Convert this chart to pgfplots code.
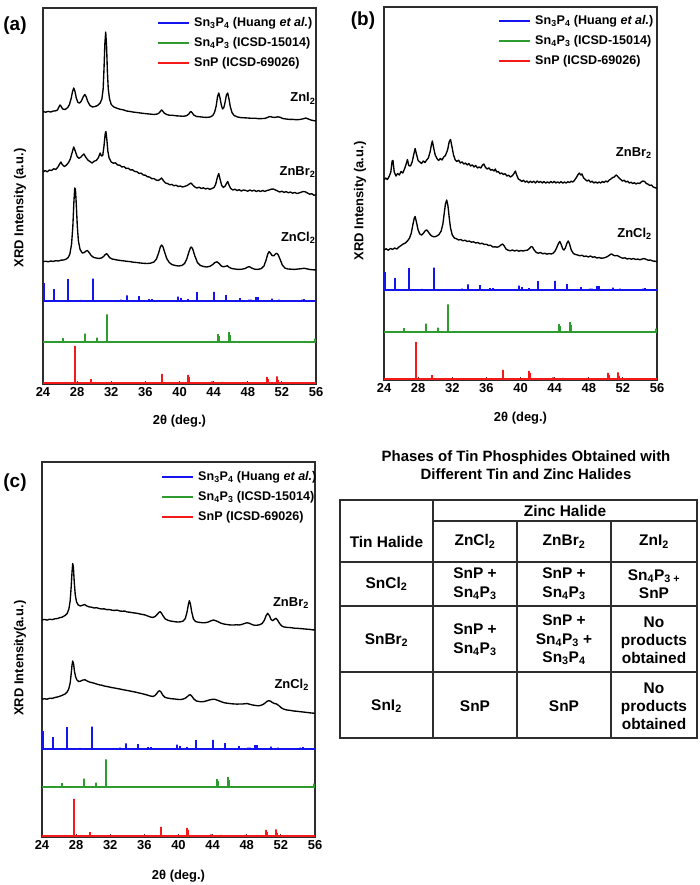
\documentclass[border=0pt]{standalone}
\usepackage{fontspec}
\setmainfont{Liberation Sans}
\usepackage{pgfplots}
\pgfplotsset{compat=1.18}
\usepackage{pgfplotstable}

\definecolor{refblue}{RGB}{20,20,240}
\definecolor{refgreen}{RGB}{45,155,45}
\definecolor{refred}{RGB}{245,25,25}
\definecolor{axgray}{RGB}{45,45,45}
\newcommand{\fs}[1]{\fontsize{#1}{#1}\selectfont\bfseries}
\newcommand{\tf}{\fontsize{15.5}{18.3}\selectfont\bfseries}

% ---------- reference stick patterns (x, relative height) ----------
\pgfplotstableread{
x h
24.0 0
24.1 0
24.1 18
24.1 0
25.25 0
25.25 12
25.25 0
26.9 0
26.9 22
26.9 0
28.45 0
28.45 1.2
28.45 0
29.9 0
29.9 22.5
29.9 0
31.7 0
31.7 1
31.7 0
33.1 0
33.1 1.5
33.1 0
33.9 0
33.9 5.7
33.9 0
35.2 0
35.2 5
35.2 0
36.4 0
36.4 2
36.4 0
36.75 0
36.75 1.8
36.75 0
39.85 0
39.85 4.5
39.85 0
40.2 0
40.2 3
40.2 0
41.0 0
41.0 2
41.0 0
42.05 0
42.05 9
42.05 0
42.3 0
42.3 1
42.3 0
44.1 0
44.1 9.2
44.1 0
45.45 0
45.45 6
45.45 0
47.1 0
47.1 3
47.1 0
48.1 0
48.1 1.5
48.1 0
48.35 0
48.35 1.5
48.35 0
48.95 0
48.95 4
48.95 0
49.25 0
49.25 4
49.25 0
50.8 0
50.8 2.5
50.8 0
51.7 0
51.7 1.5
51.7 0
52.0 0
52.0 1
52.0 0
54.3 0
54.3 1.5
54.3 0
54.65 0
54.65 2
54.65 0
55.8 0
55.8 0.8
55.8 0
56.0 0
}\snthreepfour

\pgfplotstableread{
x h
24.0 0
26.1 0
26.1 1
26.1 0
26.4 0
26.4 4
26.4 0
27.95 0
27.95 0.7
27.95 0
28.9 0
28.9 8.5
28.9 0
30.35 0
30.35 4.5
30.35 0
31.5 0
31.5 27.7
31.5 0
33.0 0
33.0 0.8
33.0 0
38.3 0
38.3 0.8
38.3 0
44.5 0
44.5 8
44.5 0
44.65 0
44.65 6
44.65 0
45.75 0
45.75 10
45.75 0
45.9 0
45.9 7
45.9 0
51.3 0
51.3 0.5
51.3 0
54.6 0
54.6 0.8
54.6 0
55.0 0
55.0 1
55.0 0
55.9 0
55.9 3.5
55.9 0
56.0 0
}\snfourpthree

\pgfplotstableread{
x h
24.0 0
27.7 0
27.7 37
27.7 0
29.6 0
29.6 3.8
29.6 0
38.0 0
38.0 9
38.0 0
41.05 0
41.05 8
41.05 0
41.15 0
41.15 6
41.15 0
43.8 0
43.8 1.5
43.8 0
45.0 0
45.0 1
45.0 0
47.8 0
47.8 1
47.8 0
50.2 0
50.2 6
50.2 0
50.35 0
50.35 4
50.35 0
51.4 0
51.4 6.5
51.4 0
51.55 0
51.55 3
51.55 0
56.0 0
}\snp

% ---------- panel (a) measured patterns ----------
\pgfplotstableread{
x y
24.0 272.5
24.3 271.8
24.6 272.6
24.9 272.0
25.2 272.9
25.5 273.2
25.7 274.0
25.9 277.5
26.0 279.0
26.1 278.0
26.3 275.0
26.6 274.5
26.9 276.5
27.1 279.5
27.3 285.5
27.45 292.0
27.6 296.0
27.75 292.5
27.9 286.0
28.1 281.5
28.3 281.0
28.5 283.0
28.7 287.0
28.9 289.5
29.05 287.5
29.25 282.5
29.5 278.5
29.8 277.0
30.1 277.5
30.4 278.5
30.7 281.0
30.9 285.0
31.05 295.0
31.15 315.0
31.25 340.0
31.35 352.0
31.45 338.0
31.55 312.0
31.65 295.0
31.8 285.0
32.0 279.5
32.3 277.0
32.6 276.0
33.0 274.8
33.4 274.2
33.8 273.0
34.2 272.5
34.6 271.9
35.0 271.5
35.4 271.0
35.8 270.6
36.2 270.2
36.6 269.9
37.0 269.5
37.4 270.0
37.6 271.0
37.8 273.0
37.9 274.0
38.0 273.2
38.2 271.0
38.5 269.5
38.8 268.8
39.2 268.7
39.6 268.2
40.0 268.0
40.4 267.7
40.8 268.2
41.1 270.0
41.25 272.0
41.35 272.5
41.5 271.0
41.7 268.8
42.0 267.5
42.4 267.2
42.8 266.8
43.2 266.6
43.6 267.0
43.9 268.5
44.1 271.5
44.3 278.0
44.45 287.0
44.6 291.0
44.75 286.0
44.9 279.0
45.05 275.0
45.2 276.5
45.35 282.0
45.5 289.0
45.65 291.0
45.8 285.0
45.95 277.5
46.15 271.5
46.4 268.5
46.8 267.0
47.2 266.4
47.6 266.2
48.0 266.0
48.4 265.7
48.8 265.8
49.2 265.4
49.6 265.4
50.0 265.6
50.3 266.5
50.6 267.5
50.9 266.8
51.2 266.6
51.5 267.2
51.8 266.7
52.1 265.5
52.5 265.0
52.9 264.6
53.3 264.6
53.7 264.3
54.1 264.5
54.5 265.2
54.8 266.0
55.1 265.0
55.4 264.0
55.7 263.4
56.0 263.0
}\aZnI

\pgfplotstableread{
x y
24.0 212.0
24.25 213.4
24.5 212.2
24.75 214.0
25.0 213.5
25.25 215.2
25.5 214.6
25.75 217.0
25.95 220.0
26.1 222.0
26.25 219.5
26.5 217.5
26.75 219.0
27.0 221.5
27.2 225.0
27.4 231.0
27.6 237.0
27.8 232.5
28.0 227.5
28.2 225.8
28.4 226.5
28.6 228.5
28.8 230.0
29.0 227.0
29.25 224.0
29.5 222.5
29.75 221.0
30.0 222.8
30.25 223.5
30.5 226.5
30.7 231.0
30.85 228.0
31.0 228.5
31.15 238.0
31.3 251.0
31.38 252.5
31.5 243.0
31.6 233.0
31.75 226.0
32.0 222.0
32.25 220.8
32.5 221.2
32.75 219.0
33.0 218.8
33.25 217.0
33.5 217.4
33.75 215.5
34.0 215.8
34.25 214.0
34.5 214.2
34.75 212.5
35.0 212.3
35.25 210.6
35.5 210.9
35.75 209.0
36.0 208.8
36.25 207.2
36.5 207.0
36.75 205.3
37.0 205.5
37.25 204.0
37.5 203.5
37.7 204.5
37.9 206.0
38.1 203.5
38.35 201.0
38.6 200.5
38.85 199.2
39.1 199.6
39.35 198.2
39.6 198.8
39.85 197.5
40.1 198.0
40.35 197.0
40.6 197.6
40.9 198.5
41.15 200.0
41.35 201.0
41.55 199.0
41.8 197.0
42.05 196.0
42.3 196.8
42.55 195.5
42.8 196.2
43.05 195.0
43.3 195.8
43.55 194.6
43.8 195.5
44.05 196.5
44.25 200.0
44.45 207.0
44.6 210.5
44.75 205.0
44.95 198.5
45.15 196.5
45.35 198.0
45.5 200.5
45.65 202.5
45.8 199.0
46.0 195.5
46.25 194.0
46.5 194.8
46.75 193.4
47.0 194.3
47.25 193.0
47.5 194.0
47.75 193.6
48.0 192.8
48.25 194.0
48.5 193.0
48.75 193.8
49.0 192.5
49.25 193.5
49.5 192.4
49.75 193.6
50.0 192.6
50.25 193.5
50.5 194.0
50.75 194.8
51.0 195.0
51.25 194.0
51.5 193.0
51.75 192.0
52.0 192.8
52.25 191.6
52.5 192.4
52.75 191.2
53.0 192.0
53.25 190.8
53.5 191.6
53.75 190.5
54.0 191.0
54.25 191.8
54.5 192.5
54.75 192.2
55.0 191.0
55.25 189.8
55.5 190.3
55.75 188.8
56.0 189.2
}\aZnBr

\pgfplotstableread{
x y
24.0 122.3
24.3 122.8
24.6 122.2
24.9 123.0
25.2 122.6
25.5 123.3
25.8 123.0
26.1 123.8
26.4 124.0
26.7 124.8
26.95 126.5
27.15 130.0
27.35 140.0
27.5 158.0
27.62 182.0
27.72 196.0
27.8 195.0
27.9 180.0
28.02 158.0
28.15 143.0
28.35 134.5
28.6 131.0
28.85 131.5
29.05 133.0
29.2 133.5
29.4 131.5
29.65 128.5
29.95 126.5
30.25 126.0
30.55 125.5
30.85 126.0
31.1 127.5
31.3 129.5
31.45 130.3
31.6 129.0
31.8 126.5
32.1 125.0
32.4 124.5
32.7 124.0
33.0 123.6
33.4 123.2
33.8 122.7
34.2 122.4
34.6 121.8
35.0 121.5
35.4 121.0
35.8 120.7
36.2 120.5
36.6 120.8
37.0 122.0
37.3 125.0
37.55 131.0
37.75 137.0
37.9 139.0
38.05 137.5
38.25 132.0
38.5 125.5
38.8 121.5
39.1 119.5
39.5 118.5
39.9 118.0
40.3 118.6
40.6 120.5
40.85 125.0
41.1 132.0
41.3 136.5
41.4 137.0
41.55 135.0
41.8 128.0
42.1 121.5
42.45 118.5
42.8 117.5
43.2 117.0
43.6 117.8
43.9 119.5
44.15 121.5
44.4 122.2
44.65 120.5
44.9 118.0
45.15 117.2
45.45 117.8
45.6 118.3
45.8 116.8
46.1 115.5
46.5 115.0
46.9 114.6
47.3 114.8
47.7 115.5
48.0 117.0
48.2 117.3
48.45 116.0
48.8 114.8
49.2 114.6
49.6 115.5
49.9 118.0
50.15 124.0
50.35 130.0
50.5 132.3
50.65 131.0
50.85 128.5
51.05 128.2
51.25 130.0
51.4 130.7
51.55 129.5
51.8 124.5
52.05 119.0
52.35 116.0
52.7 115.0
53.1 114.8
53.5 114.6
53.9 115.0
54.3 115.3
54.6 115.8
54.9 115.2
55.3 114.5
55.7 114.2
56.0 114.0
}\aZnCl

% ---------- panel (b) measured patterns ----------
\pgfplotstableread{
x y
24.0 200.0
24.2 202.0
24.4 200.5
24.6 203.5
24.8 208.0
24.95 219.0
25.05 219.5
25.2 208.0
25.4 204.0
25.6 206.5
25.8 205.0
26.0 208.5
26.2 207.0
26.4 211.0
26.6 216.0
26.75 220.5
26.9 214.5
27.1 214.0
27.3 218.0
27.5 226.0
27.65 231.5
27.8 226.0
28.0 219.5
28.2 218.0
28.4 216.5
28.6 219.0
28.8 217.5
29.0 220.0
29.2 222.0
29.4 228.0
29.55 235.0
29.67 239.0
29.8 233.0
30.0 225.0
30.2 221.5
30.4 219.5
30.6 221.5
30.8 220.0
31.0 223.0
31.2 224.5
31.45 230.0
31.65 238.5
31.8 240.5
31.95 234.0
32.15 225.0
32.35 220.0
32.55 218.5
32.75 219.8
32.95 217.0
33.15 218.2
33.35 216.0
33.55 217.0
33.75 215.0
33.95 216.5
34.15 214.0
34.35 215.2
34.55 213.0
34.75 214.5
34.95 212.0
35.15 213.0
35.35 212.0
35.55 215.0
35.7 216.0
35.9 212.5
36.1 211.0
36.3 212.2
36.5 209.8
36.7 210.5
36.9 209.0
37.05 211.0
37.2 208.0
37.4 208.5
37.6 206.2
37.8 207.0
38.0 205.5
38.2 206.3
38.4 204.0
38.6 204.8
38.8 203.0
39.0 204.0
39.2 206.0
39.4 209.0
39.55 205.0
39.75 201.0
39.95 200.0
40.15 198.5
40.35 199.8
40.55 197.8
40.75 199.0
40.95 197.2
41.15 198.8
41.35 197.5
41.55 198.8
41.75 197.0
41.95 199.0
42.15 197.5
42.35 198.6
42.55 197.0
42.75 198.5
42.95 196.8
43.15 198.2
43.35 197.0
43.55 198.5
43.75 197.2
43.95 198.6
44.15 197.0
44.35 198.2
44.55 197.0
44.75 198.4
44.95 196.8
45.15 198.0
45.35 197.0
45.55 198.2
45.75 197.5
45.95 198.8
46.15 198.0
46.35 200.0
46.55 202.5
46.75 205.5
46.9 207.0
47.05 205.0
47.2 206.0
47.4 202.0
47.6 200.5
47.8 199.0
48.0 200.0
48.2 197.8
48.4 198.8
48.6 197.0
48.8 198.2
49.0 196.8
49.2 198.0
49.4 197.0
49.6 198.5
49.8 197.5
50.0 199.0
50.2 198.0
50.4 200.0
50.6 201.0
50.8 202.5
51.0 203.0
51.2 205.0
51.35 204.0
51.55 202.0
51.75 200.5
51.95 199.0
52.15 199.8
52.35 198.0
52.55 198.8
52.75 197.0
52.95 197.8
53.15 196.5
53.35 197.3
53.55 196.0
53.75 197.0
53.95 196.5
54.15 198.0
54.35 199.0
54.55 198.5
54.75 196.5
54.95 195.8
55.15 194.5
55.35 195.0
55.55 193.0
55.75 192.5
56.0 191.5
}\bZnBr

\pgfplotstableread{
x y
24.0 130.0
24.25 131.2
24.5 129.8
24.75 131.5
25.0 130.6
25.25 132.0
25.5 131.0
25.75 133.0
26.0 134.5
26.25 136.0
26.5 137.0
26.75 139.0
27.0 142.0
27.2 147.0
27.4 156.0
27.55 162.0
27.65 163.5
27.8 158.0
28.0 150.0
28.2 146.0
28.4 145.0
28.6 146.5
28.8 149.0
29.0 150.2
29.2 148.0
29.45 145.0
29.7 143.5
29.95 143.2
30.2 144.0
30.45 145.5
30.7 149.0
30.9 156.0
31.05 166.0
31.2 176.0
31.35 180.0
31.5 174.0
31.65 162.0
31.8 152.0
32.0 145.0
32.25 142.0
32.5 141.2
32.75 140.0
33.0 140.5
33.25 139.2
33.5 139.8
33.75 138.5
34.0 139.0
34.25 137.8
34.5 138.2
34.75 137.0
35.0 137.5
35.25 136.2
35.5 136.8
35.75 135.5
36.0 135.8
36.25 134.5
36.5 134.8
36.75 133.0
37.0 133.2
37.25 132.8
37.5 133.5
37.7 135.0
37.9 136.0
38.1 134.0
38.3 131.0
38.55 129.8
38.8 129.2
39.05 130.0
39.3 129.0
39.55 129.8
39.8 128.8
40.05 129.5
40.3 129.0
40.55 129.5
40.8 129.8
41.05 131.5
41.25 133.5
41.4 133.0
41.6 130.0
41.85 127.5
42.1 126.8
42.35 127.5
42.6 126.2
42.85 126.8
43.1 125.8
43.35 126.5
43.6 126.0
43.85 127.0
44.05 129.0
44.25 132.5
44.45 136.5
44.6 138.5
44.75 136.0
44.95 131.0
45.1 130.0
45.25 132.0
45.45 137.0
45.6 139.0
45.75 136.0
45.95 130.0
46.2 126.5
46.45 125.5
46.7 125.0
46.95 124.2
47.2 124.8
47.45 123.5
47.7 124.0
47.95 123.0
48.2 124.0
48.45 122.8
48.7 123.2
48.95 122.0
49.2 122.5
49.45 121.8
49.7 122.0
49.95 122.5
50.2 123.5
50.45 125.0
50.65 126.2
50.85 125.0
51.05 124.2
51.3 124.5
51.5 123.8
51.75 122.5
52.0 121.8
52.25 122.2
52.5 121.0
52.75 121.6
53.0 120.8
53.25 121.5
53.5 120.5
53.75 121.0
54.0 120.2
54.25 121.0
54.5 121.5
54.75 120.5
55.0 119.8
55.25 120.0
55.5 119.0
55.75 118.8
56.0 118.3
}\bZnCl

% ---------- panel (c) measured patterns ----------
\pgfplotstableread{
x y
24.0 217.0
24.3 217.6
24.6 216.9
24.9 217.8
25.2 217.4
25.5 218.2
25.8 218.5
26.1 219.3
26.4 220.0
26.7 221.5
26.95 223.5
27.15 228.0
27.3 236.0
27.42 250.0
27.52 265.0
27.6 273.5
27.68 270.0
27.78 255.0
27.9 242.0
28.05 235.0
28.25 232.0
28.5 231.0
28.75 231.8
29.0 232.5
29.25 231.0
29.5 230.2
29.8 229.8
30.1 229.0
30.4 229.3
30.7 228.5
31.0 228.0
31.3 228.2
31.6 227.3
31.9 227.5
32.2 226.8
32.5 226.6
32.8 226.9
33.1 226.0
33.4 225.8
33.7 225.9
34.0 225.0
34.3 224.8
34.6 224.3
34.9 224.0
35.2 223.6
35.5 223.0
35.8 222.5
36.1 222.0
36.4 221.0
36.7 220.0
37.0 219.5
37.25 220.5
37.5 222.5
37.7 224.6
37.85 225.3
38.0 224.0
38.2 221.0
38.45 218.0
38.75 216.8
39.05 216.0
39.35 215.6
39.65 215.2
39.95 215.0
40.25 215.2
40.55 216.0
40.8 218.5
41.0 225.0
41.15 232.0
41.27 236.3
41.4 233.0
41.55 225.0
41.75 218.0
42.0 215.5
42.3 214.8
42.6 214.5
42.9 214.2
43.2 214.4
43.5 215.0
43.8 216.2
44.1 217.0
44.4 216.2
44.7 215.0
45.0 213.8
45.3 213.0
45.6 212.6
45.9 212.2
46.2 212.0
46.5 212.0
46.8 212.3
47.1 212.0
47.4 212.5
47.7 213.4
48.0 214.2
48.3 213.8
48.6 212.5
48.9 211.8
49.2 211.8
49.5 212.2
49.8 213.5
50.05 216.5
50.25 221.0
50.45 223.7
50.65 221.5
50.85 217.5
51.05 216.3
51.25 217.8
51.43 218.7
51.6 217.0
51.85 213.5
52.1 211.0
52.4 210.0
52.7 209.6
53.0 209.5
53.3 209.2
53.6 208.8
53.9 208.7
54.2 208.5
54.5 208.3
54.8 208.0
55.1 207.8
55.4 207.6
55.7 207.2
56.0 207.0
}\cZnBr

\pgfplotstableread{
x y
24.0 137.7
24.3 138.3
24.6 137.8
24.9 138.8
25.2 138.6
25.5 139.5
25.8 140.0
26.1 140.8
26.4 141.8
26.7 143.0
26.95 145.0
27.15 148.5
27.3 154.0
27.42 163.0
27.52 172.0
27.6 176.0
27.7 173.0
27.82 165.0
27.95 160.0
28.1 157.0
28.3 155.5
28.55 156.0
28.8 157.0
29.05 157.2
29.3 156.0
29.55 155.0
29.8 154.5
30.1 153.8
30.4 153.0
30.7 152.2
31.0 151.8
31.3 151.0
31.6 150.5
31.9 150.0
32.2 149.4
32.5 149.0
32.8 148.5
33.1 148.0
33.4 147.5
33.7 147.0
34.0 146.5
34.3 146.0
34.6 145.5
34.9 145.0
35.2 144.4
35.5 143.8
35.8 143.2
36.1 142.5
36.4 141.8
36.7 141.0
37.0 140.5
37.25 141.5
37.45 143.5
37.65 145.8
37.8 146.2
37.95 145.0
38.15 142.0
38.4 139.8
38.7 139.0
39.0 138.5
39.3 138.2
39.6 138.0
39.9 137.6
40.2 137.5
40.5 137.8
40.8 138.8
41.05 140.5
41.25 142.0
41.4 142.2
41.55 141.0
41.8 138.0
42.1 136.0
42.4 135.5
42.7 135.2
43.0 135.5
43.3 136.2
43.6 137.0
43.9 137.6
44.2 137.8
44.5 137.0
44.8 136.0
45.1 135.0
45.4 134.2
45.7 133.8
46.0 133.5
46.3 133.2
46.6 133.0
46.9 132.9
47.2 133.0
47.5 133.0
47.8 133.3
48.1 133.4
48.4 132.6
48.7 132.0
49.0 131.6
49.3 131.2
49.6 131.5
49.9 132.5
50.15 134.0
50.4 135.8
50.6 136.3
50.8 135.8
51.0 134.5
51.25 133.5
51.5 133.0
51.75 131.5
52.0 129.5
52.3 128.0
52.6 127.2
52.9 126.8
53.2 126.5
53.5 126.0
53.8 125.8
54.1 125.5
54.4 125.2
54.7 124.9
55.0 124.6
55.3 124.3
55.6 124.0
56.0 123.7
}\cZnCl

\pgfplotsset{
  xrd/.style={
    scale only axis, width=273bp, anchor=south west,
    xmin=24, xmax=56, xtick={24,28,...,56}, ytick=\empty,
    axis line style={axgray, line width=1.1bp},
    tick style={axgray, line width=0.8bp}, tick align=inside, xtick pos=left,
    major tick length=3bp,
    ticklabel style={font=\fs{13}},
    /pgf/number format/assume math mode=true,
    xlabel={2θ (deg.)},
    xlabel style={font=\fs{13}, anchor=center},
    ylabel style={font=\fs{13}, anchor=center},
    legend cell align=left,
    legend image code/.code={\draw[##1] (0bp,0bp) -- (31bp,0bp);},
    legend style={draw=none, fill=none, anchor=north west, inner sep=0pt,
      font=\fs{12.6}, row sep=7bp,
      nodes={inner sep=0pt, text height=10bp, text depth=3bp},
      /tikz/every odd column/.style={column sep=4bp}},
  },
  meas/.style={black, line width=1.35bp, line join=round, forget plot},
  stick/.style={line width=2bp, line join=bevel, forget plot},
}

\newcommand{\legimages}{%
  \addlegendimage{color=refblue, line width=2bp}
  \addlegendimage{color=refgreen, line width=2bp}
  \addlegendimage{color=refred, line width=2bp}
}

\begin{document}
\begin{tikzpicture}
\useasboundingbox (0bp,0bp) rectangle (700bp,-885bp);

% ================= panel (a) =================
\begin{axis}[xrd, at={(43bp,-384bp)}, height=376bp, ymin=0, ymax=376,
  ylabel={XRD Intensity (a.u.)},
  ylabel style={at={(axis description cs:-0.084,0.468)}},
  xlabel style={at={(axis description cs:0.5,-0.10)}},
  legend style={at={(rel axis cs:0.4176,0.977)}}]
\legimages
\addplot[meas] table[x=x,y=y] {\aZnI};
\addplot[meas] table[x=x,y=y] {\aZnBr};
\addplot[meas] table[x=x,y=y] {\aZnCl};
\addplot[stick, color=refblue] table[x=x, y expr=\thisrow{h}+83] {\snthreepfour};
\addplot[stick, color=refgreen] table[x=x, y expr=\thisrow{h}+42] {\snfourpthree};
\addplot[stick, color=refred] table[x=x, y expr=\thisrow{h}+1.2] {\snp};
\node[anchor=base east, font=\fs{13}, inner sep=0pt] at (axis cs:55.95,282) {ZnI\textsubscript{2}};
\node[anchor=base east, font=\fs{13}, inner sep=0pt] at (axis cs:55.95,209) {ZnBr\textsubscript{2}};
\node[anchor=base east, font=\fs{13}, inner sep=0pt] at (axis cs:55.95,142.5) {ZnCl\textsubscript{2}};
\legend{Sn\textsubscript{3}P\textsubscript{4} (Huang \textit{et al.}),Sn\textsubscript{4}P\textsubscript{3} (ICSD-15014),SnP (ICSD-69026)}
\end{axis}

% ================= panel (b) =================
\begin{axis}[xrd, at={(384bp,-380bp)}, height=373bp, ymin=0, ymax=373,
  ylabel={XRD Intensity (a.u.)},
  ylabel style={at={(axis description cs:-0.088,0.48)}},
  xlabel style={at={(axis description cs:0.5,-0.102)}},
  legend style={at={(rel axis cs:0.4176,0.981)}}]
\legimages
\addplot[meas] table[x=x,y=y] {\bZnBr};
\addplot[meas] table[x=x,y=y] {\bZnCl};
\addplot[stick, color=refblue] table[x=x, y expr=\thisrow{h}+90] {\snthreepfour};
\addplot[stick, color=refgreen] table[x=x, y expr=\thisrow{h}+48] {\snfourpthree};
\addplot[stick, color=refred] table[x=x, y expr=\thisrow{h}+1.2] {\snp};
\node[anchor=base east, font=\fs{13}, inner sep=0pt] at (axis cs:55.4,223.3) {ZnBr\textsubscript{2}};
\node[anchor=base east, font=\fs{13}, inner sep=0pt] at (axis cs:55.4,142.7) {ZnCl\textsubscript{2}};
\legend{Sn\textsubscript{3}P\textsubscript{4} (Huang \textit{et al.}),Sn\textsubscript{4}P\textsubscript{3} (ICSD-15014),SnP (ICSD-69026)}
\end{axis}

% ================= panel (c) =================
\begin{axis}[xrd, at={(42bp,-837bp)}, height=375bp, ymin=0, ymax=375,
  ylabel={XRD Intensity(a.u.)},
  ylabel style={at={(axis description cs:-0.0806,0.477)}},
  xlabel style={at={(axis description cs:0.5,-0.104)}},
  legend style={at={(rel axis cs:0.436,0.978)}}]
\legimages
\addplot[meas] table[x=x,y=y] {\cZnBr};
\addplot[meas] table[x=x,y=y] {\cZnCl};
\addplot[stick, color=refblue] table[x=x, y expr=\thisrow{h}+88] {\snthreepfour};
\addplot[stick, color=refgreen] table[x=x, y expr=\thisrow{h}+50] {\snfourpthree};
\addplot[stick, color=refred] table[x=x, y expr=\thisrow{h}+1.2] {\snp};
\node[anchor=base east, font=\fs{13}, inner sep=0pt] at (axis cs:55.3,231) {ZnBr\textsubscript{2}};
\node[anchor=base east, font=\fs{13}, inner sep=0pt] at (axis cs:55.3,149) {ZnCl\textsubscript{2}};
\legend{Sn\textsubscript{3}P\textsubscript{4} (Huang \textit{et al.}),Sn\textsubscript{4}P\textsubscript{3} (ICSD-15014),SnP (ICSD-69026)}
\end{axis}

% panel letters
\node[font=\fs{19}] at (15bp,-26bp) {(a)};
\node[font=\fs{19}] at (363bp,-21bp) {(b)};
\node[font=\fs{19}] at (15bp,-483bp) {(c)};

% ================= table =================
\node[font=\fontsize{15}{18}\selectfont\bfseries, align=center] at (526bp,-465.5bp)
  {Phases of Tin Phosphides Obtained with\\Different Tin and Zinc Halides};
\begin{scope}[axgray, line width=1.3bp]
\draw (340bp,-500bp) rectangle (697bp,-738bp);
\draw (433bp,-500bp) -- (433bp,-738bp);
\draw (517bp,-521bp) -- (517bp,-738bp);
\draw (611bp,-521bp) -- (611bp,-738bp);
\draw (433bp,-521bp) -- (697bp,-521bp);
\draw (340bp,-562bp) -- (697bp,-562bp);
\draw (340bp,-606bp) -- (697bp,-606bp);
\draw (340bp,-672bp) -- (697bp,-672bp);
\end{scope}
\begin{scope}[every node/.style={font=\tf, align=center, inner sep=0pt}]
\node at (565bp,-510.5bp) {Zinc Halide};
\node at (386.5bp,-541.5bp) {Tin Halide};
\node at (475bp,-541.5bp) {ZnCl\textsubscript{2}};
\node at (564bp,-541.5bp) {ZnBr\textsubscript{2}};
\node at (654bp,-541.5bp) {ZnI\textsubscript{2}};
\node at (386.5bp,-584bp) {SnCl\textsubscript{2}};
\node at (475bp,-584bp) {SnP +\\Sn\textsubscript{4}P\textsubscript{3}};
\node at (564bp,-584bp) {SnP +\\Sn\textsubscript{4}P\textsubscript{3}};
\node at (654bp,-584bp) {Sn\textsubscript{4}P\textsubscript{3 +}\\SnP};
\node at (386.5bp,-640bp) {SnBr\textsubscript{2}};
\node at (475bp,-640bp) {SnP +\\Sn\textsubscript{4}P\textsubscript{3}};
\node at (564bp,-640bp) {SnP +\\Sn\textsubscript{4}P\textsubscript{3} +\\Sn\textsubscript{3}P\textsubscript{4}};
\node at (654bp,-640bp) {No\\products\\obtained};
\node at (386.5bp,-706bp) {SnI\textsubscript{2}};
\node at (475bp,-706bp) {SnP};
\node at (564bp,-706bp) {SnP};
\node at (654bp,-706bp) {No\\products\\obtained};
\end{scope}
\end{tikzpicture}
\end{document}
